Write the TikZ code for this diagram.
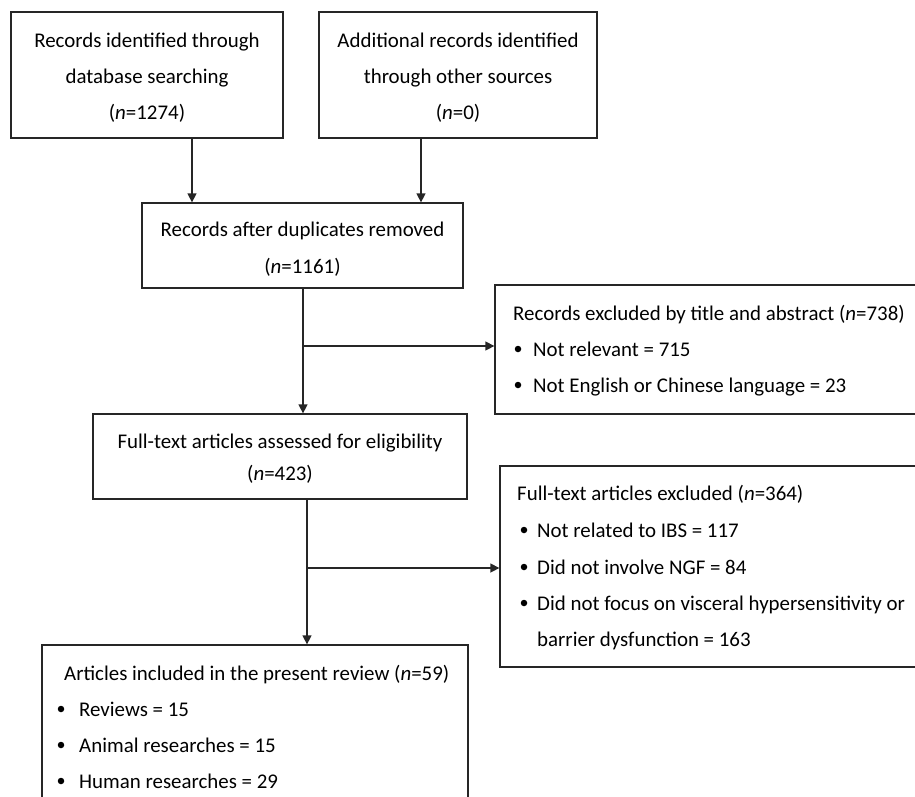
\documentclass[tikz,border=0pt]{standalone}
\usepackage{fontspec}
\setmainfont{Carlito}
\usetikzlibrary{arrows.meta}
\tikzset{
  box/.style={draw=black!85, line width=1.3pt, rectangle, inner sep=0pt},
  conn/.style={draw=black!85, line width=1.4pt},
  arr/.style={conn, -{Triangle[length=9pt,width=9pt]}},
  txt/.style={inner sep=0pt, anchor=mid, yshift=-5pt, font=\fontsize{20.9}{24}\selectfont},
  ltxt/.style={txt, anchor=mid west},
  dot/.style={circle, fill=black, inner sep=0pt, minimum size=6.5pt}
}
\begin{document}
\begin{tikzpicture}[x=1pt,y=-1pt]
\useasboundingbox (0,0) rectangle (915,796);
\clip (0,0) rectangle (915,796);
% boxes
\node[box, minimum width=272pt, minimum height=126pt] (b1) at (147,75) {};
\node[box, minimum width=278pt, minimum height=126pt] (b2) at (458,75) {};
\node[box, minimum width=321pt, minimum height=85pt] (b3) at (302.5,245.5) {};
\node[box, minimum width=440pt, minimum height=129pt] (b5) at (715,349.5) {};
\node[box, minimum width=374pt, minimum height=85pt] (b4) at (280,456.5) {};
\node[box, minimum width=440pt, minimum height=201pt] (b7) at (720,566.5) {};
\node[box, minimum width=426pt, minimum height=175pt] (b6) at (255,732.5) {};
% texts
\node[txt] (t11) at (147,40) {Records identified through};
\node[txt] (t12) at (147,76) {database searching};
\node[txt] (t13) at (147,112) {(\textit{n}=1274)};
\node[txt] (t21) at (458,40) {Additional records identified};
\node[txt] (t22) at (458,76) {through other sources};
\node[txt] (t23) at (458,112) {(\textit{n}=0)};
\node[txt] (t31) at (302.5,229) {Records after duplicates removed};
\node[txt] (t32) at (302.5,266) {(\textit{n}=1161)};
\node[txt] (t41) at (280,441) {Full-text articles assessed for eligibility};
\node[txt] (t42) at (280,473) {(\textit{n}=423)};
\node[ltxt] (t51) at (513,313) {Records excluded by title and abstract (\textit{n}=738)};
\node[dot] (d51) at (518,349) {};
\node[ltxt] (t52) at (533,349) {Not relevant = 715};
\node[dot] (d52) at (518,385) {};
\node[ltxt] (t53) at (533,385) {Not English or Chinese language = 23};
\node[ltxt] (t71) at (517,493) {Full-text articles excluded (\textit{n}=364)};
\node[dot] (d71) at (524,530) {};
\node[ltxt] (t72) at (537,530) {Not related to IBS = 117};
\node[dot] (d72) at (524,567) {};
\node[ltxt] (t73) at (537,567) {Did not involve NGF = 84};
\node[dot] (d73) at (524,603) {};
\node[ltxt] (t74) at (537,603) {Did not focus on visceral hypersensitivity or};
\node[ltxt] (t75) at (537,639) {barrier dysfunction = 163};
\node[ltxt] (t61) at (64,673) {Articles included in the present review (\textit{n}=59)};
\node[dot] (d61) at (61,709) {};
\node[ltxt] (t62) at (79,709) {Reviews = 15};
\node[dot] (d62) at (61,745) {};
\node[ltxt] (t63) at (79,745) {Animal researches = 15};
\node[dot] (d63) at (61,781) {};
\node[ltxt] (t64) at (79,781) {Human researches = 29};
% connectors
\coordinate (x1) at (192,0);
\coordinate (x2) at (421,0);
\coordinate (x3) at (303,0);
\coordinate (x4) at (307,0);
\coordinate (y3) at (0,346);
\coordinate (y4) at (0,568);
\draw[arr] (b1.south -| x1) -- (b3.north -| x1);
\draw[arr] (b2.south -| x2) -- (b3.north -| x2);
\draw[arr] (b3.south -| x3) -- (b4.north -| x3);
\draw[arr] (x3 |- y3) -- (b5.west |- y3);
\draw[arr] (b4.south -| x4) -- (b6.north -| x4);
\draw[arr] (x4 |- y4) -- (b7.west |- y4);
\end{tikzpicture}
\end{document}
